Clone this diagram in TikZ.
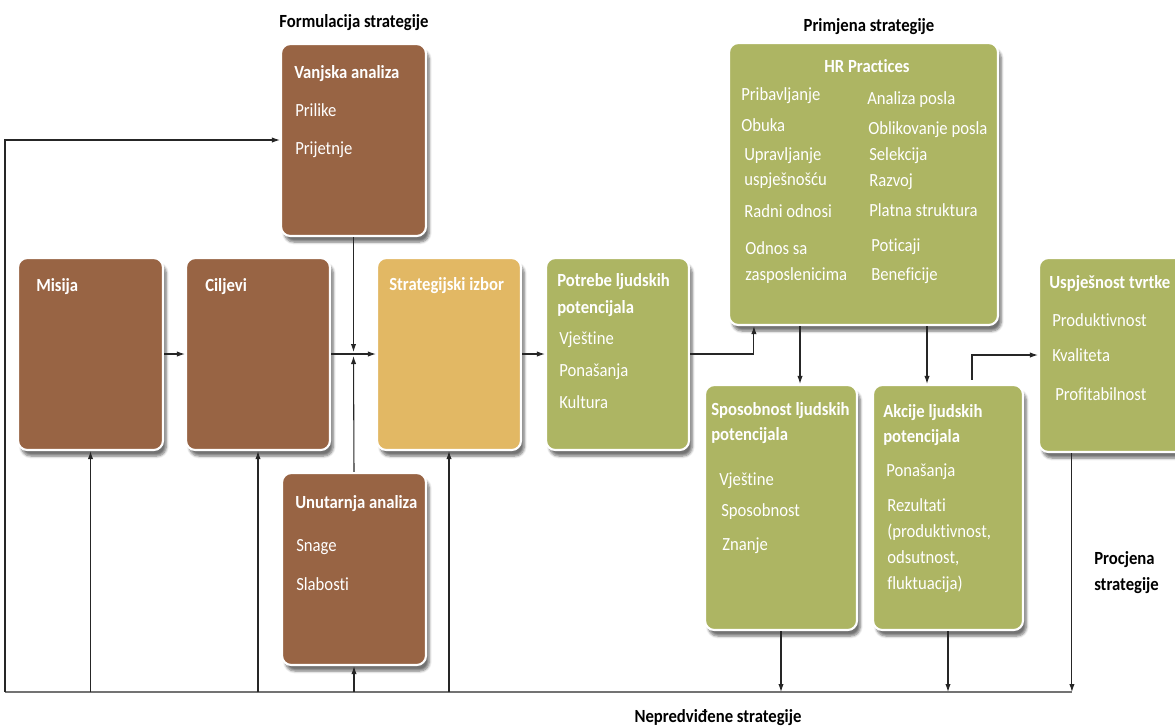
\documentclass[tikz,border=0pt]{standalone}
\usepackage{fontspec}
\setmainfont{Carlito}[FakeStretch=0.9, Ligatures=CommonOff]
\usetikzlibrary{arrows.meta,shadows.blur,fit,calc}
\definecolor{brn}{HTML}{986444}
\definecolor{gld}{HTML}{E2B864}
\definecolor{grn}{HTML}{ADB563}
\begin{document}
\begin{tikzpicture}[x=0.75pt,y=-0.75pt,
  box/.style={draw=white, line width=1.6pt, rounded corners=7pt, inner sep=0pt,
    blur shadow={shadow xshift=2.5pt, shadow yshift=-4.5pt, shadow blur steps=6, shadow opacity=55}},
  bbox/.style={box, fill=brn},
  gbox/.style={box, fill=gld},
  vbox/.style={box, fill=grn},
  hd/.style={anchor=base west, text=white, inner sep=0pt, font=\fontsize{13.9}{16}\selectfont\bfseries},
  it/.style={anchor=base west, text=white, inner sep=0pt, font=\fontsize{13.9}{16}\selectfont},
  ttl/.style={anchor=base, text=black, inner sep=0pt, font=\fontsize{13.9}{16}\selectfont\bfseries},
  ttlw/.style={anchor=base west, text=black, inner sep=0pt, font=\fontsize{13.9}{16}\selectfont\bfseries},
  arr/.style={draw=black!85, line width=0.8pt, -{Latex[length=6pt,width=4pt]}},
  ln/.style={draw=black!55, line width=0.8pt}]
\useasboundingbox (0,0) rectangle (1175,726);
\clip (0,0) rectangle (1175,726);

% boxes
\node[bbox, fit={(281,44) (426,236)}] (vanj) {};
\node[bbox, fit={(18,258) (163,450)}] (mis) {};
\node[bbox, fit={(186,258) (330,450)}] (cilj) {};
\node[gbox, fit={(377,258) (521,450)}] (strat) {};
\node[vbox, fit={(546,258) (689,450)}] (potr) {};
\node[bbox, fit={(282,473) (426,665)}] (unut) {};
\node[vbox, fit={(729,43) (998,325)}] (hr) {};
\node[vbox, fit={(705,385) (857,630)}] (spos) {};
\node[vbox, fit={(873,385) (1023,630)}] (akc) {};
\node[vbox, fit={(1039,258) (1195,452)}] (usp) {};

% titles
\node[ttl] (t1) at (354,27) {Formulacija strategije};
\node[ttl] (t2) at (869,31) {Primjena strategije};
\node[ttl] (t3) at (718,722) {Nepredviđene strategije};
\node[ttlw] (t4) at (1094,564) {Procjena};
\node[ttlw] (t5) at (1094,590) {strategije};

% box texts
\node[hd] (v0) at (294,78) {Vanjska analiza};
\node[it] (v1) at (295,116) {Prilike};
\node[it] (v2) at (295,154) {Prijetnje};
\node[hd] (m0) at (36,291) {Misija};
\node[hd] (c0) at (205,291) {Ciljevi};
\node[hd] (s0) at (389,290) {Strategijski izbor};
\node[hd] (p0) at (557,286) {Potrebe ljudskih};
\node[hd] (p1) at (557,313) {potencijala};
\node[it] (p2) at (559,344) {Vještine};
\node[it] (p3) at (559,376) {Ponašanja};
\node[it] (p4) at (559,408) {Kultura};
\node[hd] (u0) at (295,508) {Unutarnja analiza};
\node[it] (u1) at (296,551) {Snage};
\node[it] (u2) at (296,590) {Slabosti};
\node[hd, anchor=base] (h0) at (867,72) {HR Practices};
\node[it] (h1) at (741,100) {Pribavljanje};
\node[it] (h2) at (741,131) {Obuka};
\node[it] (h3) at (744,160) {Upravljanje};
\node[it] (h4) at (744,185) {uspješnošću};
\node[it] (h5) at (744,217) {Radni odnosi};
\node[it] (h6) at (745,254) {Odnos sa};
\node[it] (h7) at (745,280) {zasposlenicima};
\node[it] (h8) at (867,104) {Analiza posla};
\node[it] (h9) at (868,134) {Oblikovanje posla};
\node[it] (h10) at (869,160) {Selekcija};
\node[it] (h11) at (869,186) {Razvoj};
\node[it] (h12) at (869,216) {Platna struktura};
\node[it] (h13) at (871,251) {Poticaji};
\node[it] (h14) at (871,280) {Beneficije};
\node[hd] (k0) at (711,415) {Sposobnost ljudskih};
\node[hd] (k1) at (711,440) {potencijala};
\node[it] (k2) at (719,485) {Vještine};
\node[it] (k3) at (721,516) {Sposobnost};
\node[it] (k4) at (722,550) {Znanje};
\node[hd] (a0) at (883,417) {Akcije ljudskih};
\node[hd] (a1) at (883,442) {potencijala};
\node[it] (a2) at (886,476) {Ponašanja};
\node[it] (a3) at (887,511) {Rezultati};
\node[it] (a4) at (887,537) {(produktivnost,};
\node[it] (a5) at (887,563) {odsutnost,};
\node[it] (a6) at (887,589) {fluktuacija)};
\node[hd] (e0) at (1049,288) {Uspješnost tvrtke};
\node[it] (e1) at (1052,326) {Produktivnost};
\node[it] (e2) at (1052,361) {Kvaliteta};
\node[it] (e3) at (1055,400) {Profitabilnost};

% helper coordinates
\coordinate (j) at (vanj.south |- cilj.east);
\coordinate (bot) at (5,692);
\path ($(hr.south west)+(26,0)$) coordinate (hrin);
\path ($(spos.north)+(19,0)$) coordinate (sp1);
\path ($(akc.north)+(24,-4)$) coordinate (ak1);
\path ($(usp.south west)+(34,0)$) coordinate (us1);

% connectors
\draw[arr] (mis.east) -- (cilj.west);
\draw[arr] (cilj.east) -- (strat.west);
\draw[arr, shorten >=1.5pt] (vanj.south) -- (j);
\draw[arr, shorten >=1.5pt] (unut.north) -- (j);
\draw[arr] (strat.east) -- (potr.west);
\draw[arr] (potr.east) -| (hrin);
\draw[arr] (hr.south -| sp1) -- (sp1);
\draw[arr] (hr.south -| akc.north) ++(-21,0) coordinate (ak2) -- (ak2 |- akc.north);
\draw[arr] (ak1) |- (usp.west);

\draw[ln] (us1 |- bot) -- (bot);
\draw[arr] (bot) |- (vanj.west);
\draw[arr] (us1) -- (us1 |- bot);
\draw[arr] (spos.south) -- (spos.south |- bot);
\draw[arr] (akc.south) -- (akc.south |- bot);
\draw[arr] (mis.south |- bot) -- (mis.south);
\draw[arr] (cilj.south |- bot) -- (cilj.south);
\draw[arr] (unut.south |- bot) -- (unut.south);
\draw[arr] (strat.south |- bot) -- (strat.south);
\end{tikzpicture}
\end{document}
